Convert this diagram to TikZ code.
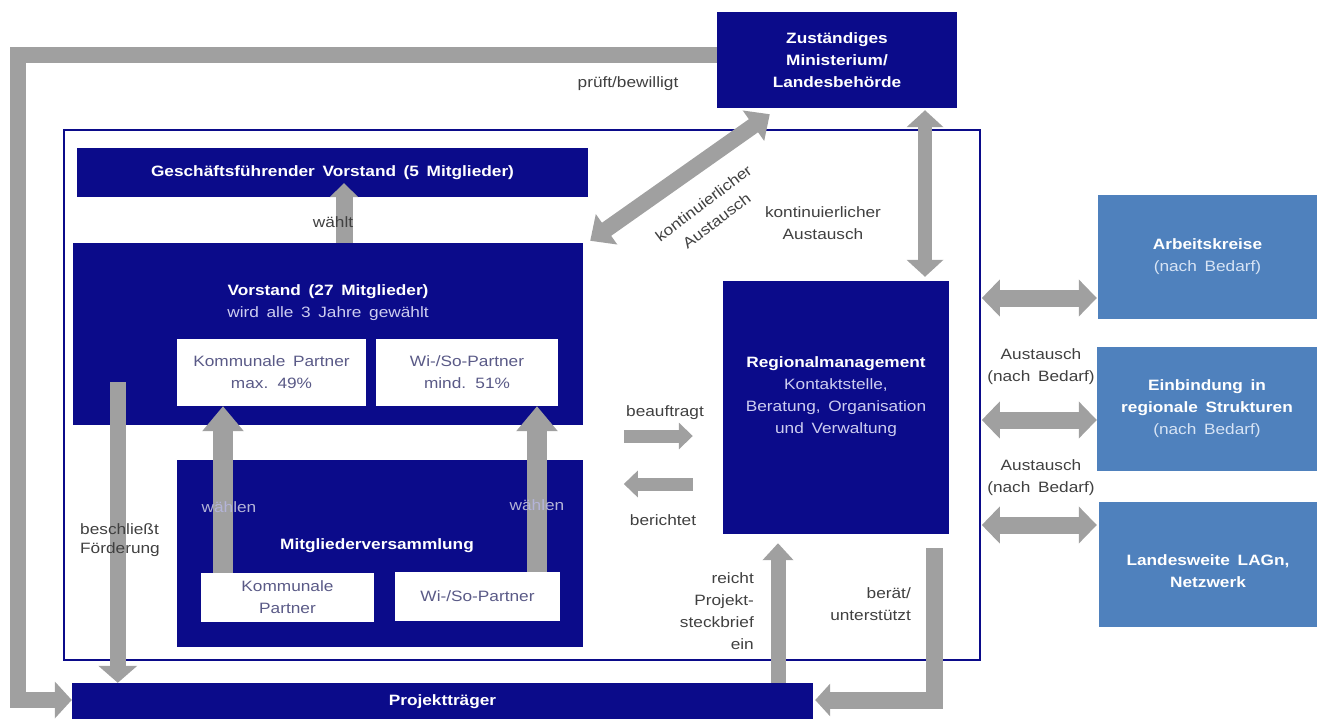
\documentclass[tikz,border=0pt]{standalone}
\usepackage{fontspec}
\setmainfont[FakeStretch=1.15,WordSpace=1.6]{Liberation Sans}
\usetikzlibrary{arrows.meta,calc}

\definecolor{navy}{RGB}{11,11,138}
\definecolor{steel}{RGB}{79,129,189}
\definecolor{arrowgray}{RGB}{160,160,160}
\definecolor{labelgray}{RGB}{64,64,64}
\definecolor{paletext}{RGB}{205,205,240}
\definecolor{steeltext}{RGB}{215,228,245}
\definecolor{partnertext}{RGB}{90,90,135}
\definecolor{votetext}{RGB}{180,180,215}

\newcommand\basefont{\fontsize{15}{22}\selectfont}
\newcommand\navysub[1]{{\mdseries\color{paletext}#1}}
\newcommand\steelsub[1]{{\mdseries\color{steeltext}#1}}

\begin{document}
\begin{tikzpicture}[x=1pt,y=-1pt,
  navybox/.style={fill=navy,inner sep=0pt,text=white,align=center,font=\basefont\bfseries},
  steelbox/.style={fill=steel,inner sep=0pt,text=white,align=center,font=\basefont\bfseries},
  partnerbox/.style={fill=white,inner sep=0pt,text=partnertext,align=center,font=\basefont},
  lagframe/.style={draw=navy,line width=2.5pt,inner sep=0pt},
  boxtext/.style={inner sep=0pt,text=white,align=center,font=\basefont\bfseries},
  note/.style={inner sep=0pt,text=labelgray,align=center,font=\basefont},
  votenote/.style={inner sep=0pt,text=votetext,font=\basefont},
  garrow/.style={draw=arrowgray,line join=miter},
  oneway/.style n args={3}{garrow,line width=#1,-{Triangle[length=#2,width=#3]}},
  twoway/.style n args={3}{garrow,line width=#1,{Triangle[length=#2,width=#3]}-{Triangle[length=#2,width=#3]}}
]
\useasboundingbox (0,0) rectangle (1317,718);
\clip (0,0) rectangle (1317,718);

% outer frame of the local action group
\node[lagframe,minimum width=916pt,minimum height=530pt] (lag) at (522,395) {};

% ministry
\node[navybox,minimum width=240pt,minimum height=96pt] (min) at (837,60)
  {Zuständiges\\Ministerium/\\Landesbehörde};

% board structure
\node[navybox,minimum width=511pt,minimum height=49pt] (gf) at (332.5,172.5)
  {Geschäftsführender Vorstand (5 Mitglieder)};
\node[navybox,minimum width=510pt,minimum height=182pt] (vor) at (328,334) {};
\node[boxtext] (vortxt) at (328,302.5)
  {Vorstand (27 Mitglieder)\\\navysub{wird alle 3 Jahre gewählt}};
\node[partnerbox,minimum width=189pt,minimum height=67pt] (kp1) at (271.5,372.5)
  {Kommunale Partner\\max. 49\%};
\node[partnerbox,minimum width=182pt,minimum height=67pt] (ws1) at (467,372.5)
  {Wi-/So-Partner\\mind. 51\%};

% general assembly
\node[navybox,minimum width=406pt,minimum height=187pt] (mv) at (380,553.5) {};
\node[boxtext] (mvtxt) at (377,546) {Mitgliederversammlung};
\node[partnerbox,minimum width=173pt,minimum height=49pt] (kp2) at (287.5,597.5)
  {Kommunale\\Partner};
\node[partnerbox,minimum width=165pt,minimum height=49pt] (ws2) at (477.5,596.5)
  {Wi-/So-Partner};

% regional management
\node[navybox,minimum width=226pt,minimum height=253pt] (rm) at (836,407.5) {};
\node[boxtext] (rmtxt) at (836,396.5)
  {Regionalmanagement\\\navysub{Kontaktstelle,}\\\navysub{Beratung, Organisation}\\\navysub{und Verwaltung}};

% project sponsors
\node[navybox,minimum width=741pt,minimum height=38pt] (pt) at (442.5,702) {Projektträger};

% external partners
\node[steelbox,minimum width=219pt,minimum height=124pt] (ak) at (1207.5,257)
  {Arbeitskreise\\\steelsub{(nach Bedarf)}};
\node[steelbox,minimum width=220pt,minimum height=124pt] (ein) at (1207,409)
  {Einbindung in\\regionale Strukturen\\\steelsub{(nach Bedarf)}};
\node[steelbox,minimum width=218pt,minimum height=125pt] (lw) at (1208,564.5) {};
\node[boxtext] (lwtxt) at (1208,571) {Landesweite LAGn,\\Netzwerk};

% connectors
\coordinate (loopturn) at (17.5,700);
\draw[oneway={16pt}{17pt}{36pt}] ($(min.west)+(0,-5)$) -| (loopturn) -- (pt.west |- loopturn);
\draw[oneway={17pt}{14pt}{28pt}] ($(vor.north)+(16,0)$) -- ($(gf.south)+(11.5,-14)$);
\draw[oneway={20pt}{25pt}{40pt}] ($(kp2.north)+(-64.5,0)$) -- ($(kp1.south)+(-48.5,0)$);
\draw[oneway={20pt}{25pt}{40pt}] ($(ws2.north)+(59.5,0)$) -- ($(ws1.south)+(70,0)$);
\draw[oneway={16pt}{17pt}{38pt}] ($(vor.south west)+(45,-43)$) -- ($(pt.north west)+(46,0)$);
\draw[twoway={16pt}{20pt}{36pt}] ($(vor.north east)+(7,-2)$) -- ($(min.south west)+(53,6)$);
\draw[twoway={14pt}{17pt}{36pt}] ($(min.south)+(88,2)$) -- ($(rm.north)+(89,-4)$);
\draw[oneway={13pt}{14pt}{26pt}] ($(rm.west)+(-99,28.5)$) -- ($(rm.west)+(-30,28.5)$);
\draw[oneway={13pt}{14pt}{26pt}] ($(rm.west)+(-30,76.5)$) -- ($(rm.west)+(-99,76.5)$);
\draw[oneway={15pt}{17pt}{30pt}] ($(pt.north)+(335.5,0)$) -- ($(rm.south)+(-58,9)$);
\draw[oneway={17pt}{15pt}{32pt}] ($(rm.south)+(98.5,14)$) |- ($(pt.east)+(2,-2)$);
\draw[twoway={17pt}{18pt}{36pt}] ($(ak.west)+(-116,41)$) -- ($(ak.west)+(-1,41)$);
\draw[twoway={17pt}{18pt}{36pt}] ($(ein.west)+(-115,11)$) -- ($(ein.west)+(0,11)$);
\draw[twoway={17pt}{18pt}{36pt}] ($(lw.west)+(-117,-39.5)$) -- ($(lw.west)+(-2,-39.5)$);

% connector labels
\node[note] (pruef) at (628,84) {prüft/bewilligt};
\node[note] (waehlt) at (333,222) {wählt};
\node[votenote] (waehlenl) at (229,507) {wählen};
\node[votenote] (waehlenr) at (537,505) {wählen};
\node[note,anchor=west,align=left,font=\fontsize{15}{19}\selectfont] (besch) at (80,540.5)
  {beschließt\\Förderung};
\node[note,rotate=37] (kdiag) at (710,212) {kontinuierlicher\\Austausch};
\node[note] (kvert) at (823,223) {kontinuierlicher\\Austausch};
\node[note] (beauf) at (665,413) {beauftragt};
\node[note] (berich) at (663,520) {berichtet};
\node[note,anchor=east,align=right] (reicht) at (754,611.5)
  {reicht\\Projekt-\\steckbrief\\ein};
\node[note,anchor=east,align=right] (beraet) at (911,604) {berät/\\unterstützt};
\node[note] (aus1) at (1041,367) {Austausch\\(nach Bedarf)};
\node[note] (aus2) at (1041,478) {Austausch\\(nach Bedarf)};
\end{tikzpicture}
\end{document}
